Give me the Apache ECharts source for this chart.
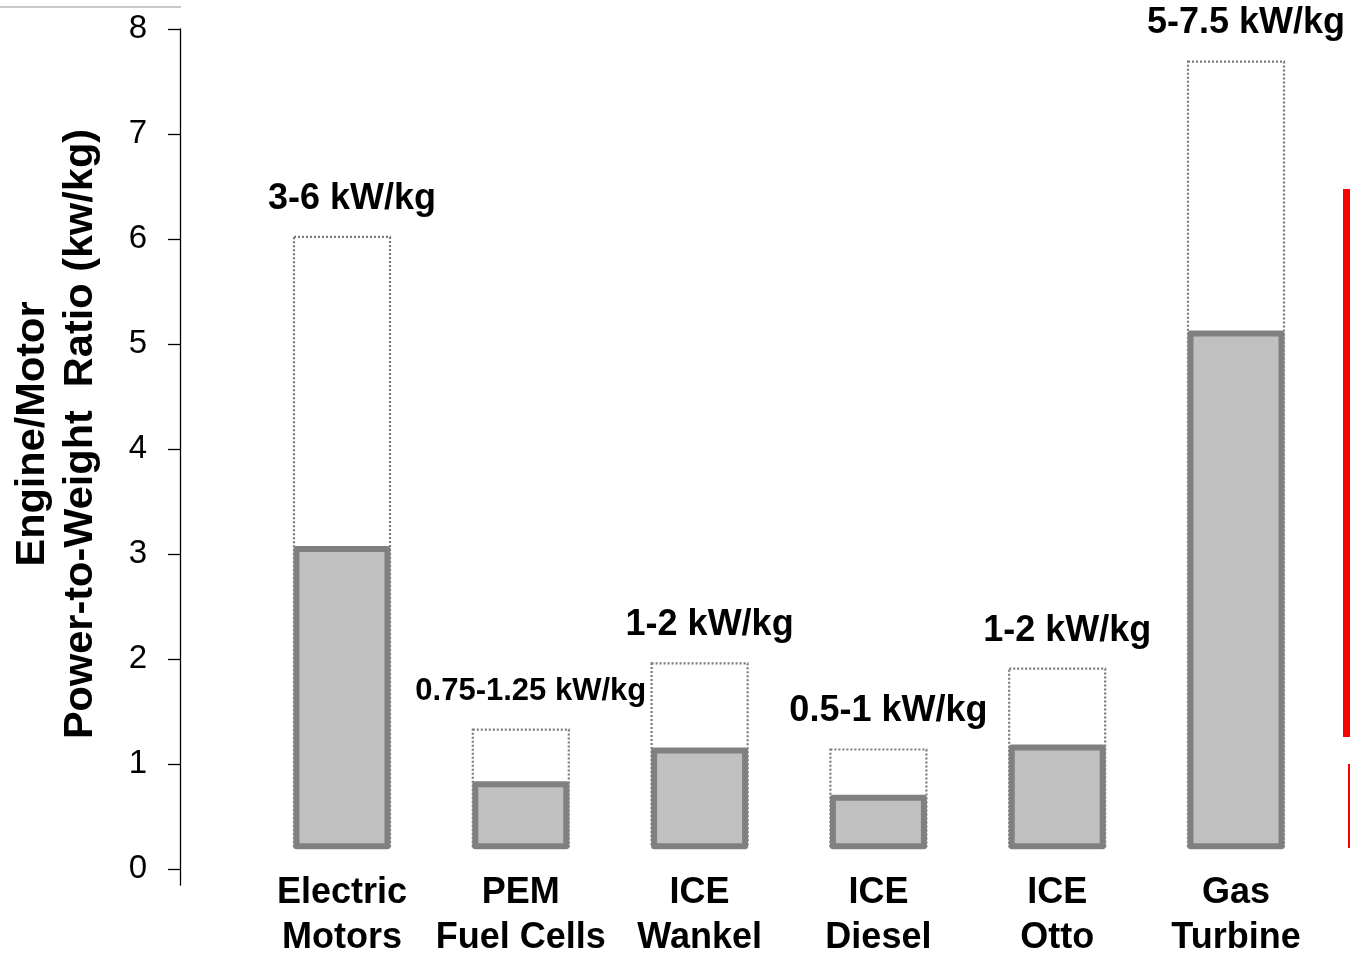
<!DOCTYPE html>
<html>
<head>
<meta charset="utf-8">
<script src="https://cdn.jsdelivr.net/npm/echarts@6/dist/echarts.min.js"></script>
<style>
html,body{margin:0;padding:0;background:#fff;}
#chart{width:1350px;height:953px;}
</style>
</head>
<body>
<div id="chart"></div>
<script>
// ---- data ----
const categories = ['Electric\nMotors', 'PEM\nFuel Cells', 'ICE\nWankel', 'ICE\nDiesel', 'ICE\nOtto', 'Gas\nTurbine'];
const lowValues = [3.05, 0.81, 1.13, 0.68, 1.16, 5.10];
const highValues = [6.02, 1.33, 1.96, 1.14, 1.91, 7.69];
const rangeLabels = ['3-6 kW/kg', '0.75-1.25 kW/kg', '1-2 kW/kg', '0.5-1 kW/kg', '1-2 kW/kg', '5-7.5 kW/kg'];
const yTicks = [0, 1, 2, 3, 4, 5, 6, 7, 8];
const yTitle = 'Engine/Motor\nPower-to-Weight  Ratio (kw/kg)';

// ---- style ----
const FONT = '"Liberation Sans", Arial, sans-serif';
const BASE = 0.22;               // bars start slightly above the axis zero
const labelFontSizes = [36, 31, 36, 36, 36, 36];

const chart = echarts.init(document.getElementById('chart'));

function rangeItem(params, api) {
  const i = api.value(0), v = api.value(1);
  const top = api.coord([i, v]);
  const bot = api.coord([i, BASE]);
  const w = api.size([1, 0])[0] * 0.537;
  return {
    type: 'group',
    children: [
      { type: 'rect',
        shape: { x: top[0] - w / 2, y: top[1], width: w, height: bot[1] - top[1] },
        style: { fill: '#ffffff', stroke: '#7a7a7a', lineWidth: 2.2, lineDash: [2, 2] } },
      { type: 'text', x: top[0] + 10, y: top[1] - 38,
        style: { text: rangeLabels[params.dataIndex], fontSize: labelFontSizes[params.dataIndex],
                 fontWeight: 'bold', fontFamily: FONT, fill: '#000', align: 'center', verticalAlign: 'middle' } }
    ]
  };
}

function lowItem(params, api) {
  const i = api.value(0), v = api.value(1);
  const top = api.coord([i, v]);
  const bot = api.coord([i, BASE]);
  const w = api.size([1, 0])[0] * 0.509;
  return {
    type: 'rect',
    shape: { x: top[0] - w / 2, y: top[1], width: w, height: bot[1] - top[1] },
    style: { fill: '#c0c0c0', stroke: '#808080', lineWidth: 6, lineJoin: 'round' }
  };
}

const option = {
  animation: false,
  backgroundColor: '#ffffff',
  grid: { left: 252.6, right: 24.6, top: 29, bottom: 68, containLabel: false, outerBoundsMode: 'none' },
  xAxis: {
    type: 'category',
    data: categories,
    boundaryGap: true,
    axisLine: { show: false, onZero: false },
    axisTick: { show: false },
    axisLabel: { interval: 0, margin: -14, fontSize: 36, fontWeight: 'bold', fontFamily: FONT,
                 color: '#000', lineHeight: 45 },
    splitLine: { show: false }
  },
  yAxis: {
    type: 'value',
    min: -0.15,
    max: 8,
    offset: 72.6,
    axisLine: { show: true, lineStyle: { color: '#000', width: 1.3 } },
    axisTick: { show: true, length: 12, customValues: yTicks, lineStyle: { color: '#000', width: 1.3 } },
    axisLabel: { customValues: yTicks, margin: 33, fontSize: 33, fontFamily: FONT, color: '#000' },
    splitLine: { show: false }
  },
  series: [
    { type: 'custom', name: 'Range', renderItem: rangeItem, clip: false,
      encode: { x: 0, y: 1 }, data: highValues.map((v, i) => [i, v]), z: 2 },
    { type: 'custom', name: 'Typical', renderItem: lowItem, clip: false,
      encode: { x: 0, y: 1 }, data: lowValues.map((v, i) => [i, v]), z: 3 }
  ],
  graphic: [
    { type: 'line', shape: { x1: 0, y1: 7, x2: 181, y2: 7 }, style: { stroke: '#c8c8c8', lineWidth: 2 } },
    { type: 'text', x: 57, y: 434, rotation: Math.PI / 2,
      style: { text: yTitle, fontSize: 41.5, fontWeight: 'bold', fontFamily: FONT, fill: '#000',
               align: 'center', verticalAlign: 'middle', lineHeight: 48 } },
    { type: 'rect', shape: { x: 1343, y: 189, width: 7, height: 548 }, style: { fill: '#ff0000' } },
    { type: 'rect', shape: { x: 1348, y: 764, width: 2, height: 84 }, style: { fill: '#ff0000' } }
  ]
};
chart.setOption(option);
</script>
</body>
</html>
